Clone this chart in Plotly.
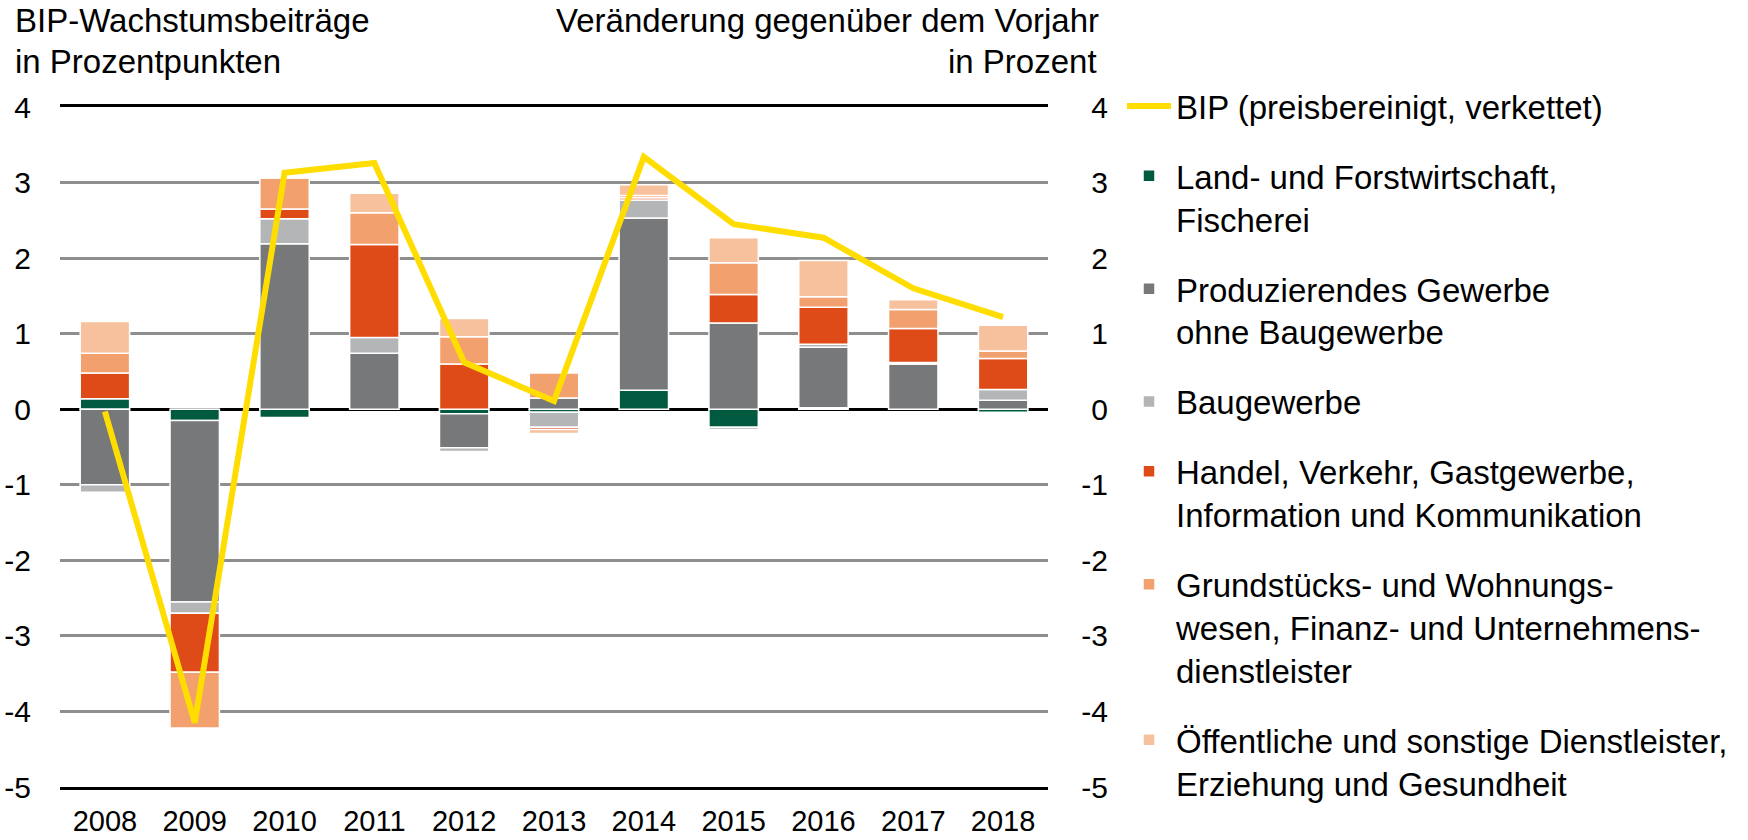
import plotly.graph_objects as go

years = ['2008', '2009', '2010', '2011', '2012', '2013', '2014', '2015', '2016', '2017', '2018']
land = [0.14, -0.15, -0.11, 0.0, -0.06, -0.04, 0.25, -0.24, 0.02, 0.0, -0.04]
prod = [-1.0, -2.40, 2.19, 0.74, -0.45, 0.15, 2.28, 1.14, 0.80, 0.60, 0.12]
bau = [-0.10, -0.15, 0.33, 0.21, -0.05, -0.20, 0.24, -0.03, 0.04, 0.02, 0.14]
handel = [0.34, -0.78, 0.13, 1.23, 0.60, -0.03, 0.03, 0.38, 0.49, 0.45, 0.41]
grund = [0.26, -0.74, 0.41, 0.42, 0.36, 0.33, 0.03, 0.42, 0.14, 0.25, 0.10]
oeff = [0.42, 0.0, 0.0, 0.26, 0.24, -0.05, 0.14, 0.33, 0.48, 0.13, 0.34]
bip = [-0.03, -4.15, 3.13, 3.26, 0.62, 0.11, 3.34, 2.45, 2.27, 1.60, 1.22]

tick_vals = [-5, -4, -3, -2, -1, 0, 1, 2, 3, 4]
tick_text = ['-5', '-4', '-3', '-2', '-1', '0', '1', '2', '3', '4']

series_names = [
    'Land- und Forstwirtschaft,<br>Fischerei',
    'Produzierendes Gewerbe<br>ohne Baugewerbe',
    'Baugewerbe',
    'Handel, Verkehr, Gastgewerbe,<br>Information und Kommunikation',
    'Grundstücks- und Wohnungs-<br>wesen, Finanz- und Unternehmens-<br>dienstleister',
    'Öffentliche und sonstige Dienstleister,<br>Erziehung und Gesundheit',
]
series_values = [land, prod, bau, handel, grund, oeff]
series_colors = ['#005A40', '#77787A', '#B4B5B6', '#DE4A18', '#F2A06E', '#F8C19D']
bip_name = 'BIP (preisbereinigt, verkettet)'

W, H = 1748, 840
ML, MR, MT, MB = 60, 20, 107, 53
PW = W - ML - MR
PH = H - MT - MB
PLOT_RIGHT = 1048

def px2paper(px):
    return (px - ML) / PW

def py2paper(py):
    return 1 + (MT - py) / PH

FONT = 'Liberation Sans, Arial, sans-serif'
FS_TITLE = 33
FS_TICK = 30
FS_XTICK = 29
FS_LEG = 33

fig = go.Figure()
for i, (name, vals, col) in enumerate(zip(series_names, series_values, series_colors)):
    fig.add_trace(go.Bar(
        x=years, y=vals, name=name,
        marker=dict(color=col, line=dict(color='white', width=1.5)),
        legendgroup=f'g{i}', legendrank=i + 2,
    ))
fig.add_trace(go.Scatter(
    x=years, y=bip, name=bip_name, mode='lines',
    line=dict(color='#FFDD00', width=6),
    yaxis='y2', legendgroup='bip', legendrank=1,
))

fig.update_layout(
    width=W, height=H,
    margin=dict(l=ML, r=MR, t=MT, b=MB, autoexpand=False),
    paper_bgcolor='white', plot_bgcolor='white',
    barmode='relative', bargap=0.45,
    font=dict(family=FONT, size=FS_TICK, color='black'),
    xaxis=dict(
        domain=[0, px2paper(PLOT_RIGHT)], automargin=False,
        showgrid=False, showline=True, linecolor='black', linewidth=3, mirror=True,
        ticks='', ticklabelstandoff=6,
        tickfont=dict(size=FS_XTICK),
    ),
    yaxis=dict(
        range=[-5, 4], tickvals=tick_vals, ticktext=tick_text, automargin=False,
        showgrid=True, gridcolor='#8E8E8E', gridwidth=2.5,
        zeroline=True, zerolinecolor='black', zerolinewidth=3,
        showline=False, ticks='', ticklabelstandoff=28,
        tickfont=dict(size=FS_TICK),
    ),
    yaxis2=dict(
        range=[-5, 4], tickvals=tick_vals, ticktext=tick_text, automargin=False,
        overlaying='y', side='left', anchor='free', position=px2paper(1108),
        showgrid=False, zeroline=False, showline=False, ticks='',
        tickfont=dict(size=FS_TICK),
    ),
    legend=dict(
        x=px2paper(1122), y=py2paper(78), xanchor='left', yanchor='top',
        font=dict(size=FS_LEG), tracegroupgap=24, itemwidth=44, valign='top',
        traceorder='grouped', bgcolor='rgba(0,0,0,0)', maxheight=830,
    ),
)

annots = [
    dict(text='BIP-Wachstumsbeiträge', x=13, y=20, anchor='left'),
    dict(text='in Prozentpunkten', x=13, y=61, anchor='left'),
    dict(text='Veränderung gegenüber dem Vorjahr', x=1101, y=20, anchor='right'),
    dict(text='in Prozent', x=1099, y=61, anchor='right'),
]
for a in annots:
    fig.add_annotation(
        text=a['text'], xref='paper', yref='paper',
        x=px2paper(a['x']), y=py2paper(a['y']),
        xanchor=a['anchor'], yanchor='middle', showarrow=False,
        font=dict(size=FS_TITLE, family=FONT, color='black'),
    )

fig.write_html(
    'out.html',
    config={'displayModeBar': False},
    post_script="document.body.style.margin='0';document.body.style.padding='0';",
)
